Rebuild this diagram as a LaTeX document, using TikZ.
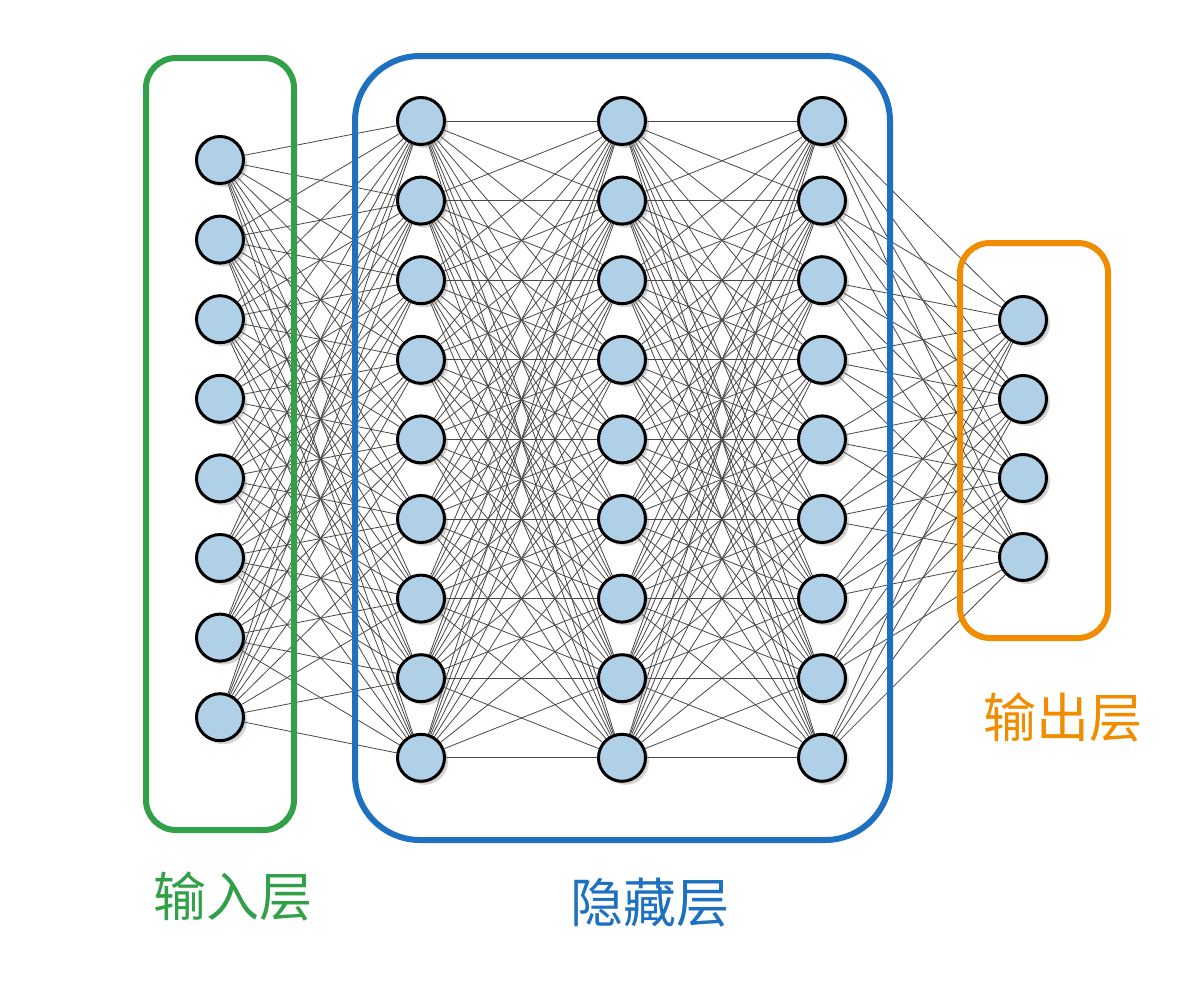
\documentclass[tikz,border=0pt]{standalone}
\usepackage{fontspec}
\newfontfamily\cjk{Noto Sans CJK SC}
\usepackage{tikz}
\usetikzlibrary{shadows,backgrounds}
\definecolor{neuronfill}{RGB}{176,208,232}
\definecolor{inputgreen}{RGB}{50,160,72}
\definecolor{hiddenblue}{RGB}{30,112,192}
\definecolor{outputorange}{RGB}{240,140,0}
\tikzset{
  neuron/.style     = {circle, draw=black, line width=3pt,
          fill=neuronfill, minimum size=47pt, inner sep=0pt,
          drop shadow={shadow xshift=3.5pt, shadow yshift=-3.5pt, opacity=0.35}},
  synapse/.style    = {draw=black!72, line width=0.8pt},
  layerbox/.style   = {line width=6pt, rounded corners=#1},
  layerlabel/.style = {font=\cjk\fontsize{53}{60}\selectfont}
}
\begin{document}
\begin{tikzpicture}[x=1pt, y=-1pt]
  \useasboundingbox (0,0) rectangle (1191,988);
  % neurons
  \foreach \i in {1,...,8}
    \node [neuron] (in\i) at (220, {160+79.6*(\i-1)}) {};
  \foreach \l/\x in {1/421, 2/622, 3/822}
    \foreach \j in {1,...,9}
      \node [neuron] (h\l-\j) at (\x, {121+79.6*(\j-1)}) {};
  \foreach \k in {1,...,4}
    \node [neuron] (out\k) at (1023, {320+79*(\k-1)}) {};
  % synapses, all to all
  \begin{scope}[on background layer]
    \foreach \i in {1,...,8}
      \foreach \j in {1,...,9}
        \draw [synapse] (in\i) -- (h1-\j);
    \foreach \l/\m in {1/2, 2/3}
      \foreach \i in {1,...,9}
        \foreach \j in {1,...,9}
          \draw [synapse] (h\l-\i) -- (h\m-\j);
    \foreach \i in {1,...,9}
      \foreach \k in {1,...,4}
        \draw [synapse] (h3-\i) -- (out\k);
  \end{scope}
  % layer boxes
  \draw [layerbox=30pt, inputgreen] (146,58) rectangle (294,830);
  \draw [layerbox=65pt, hiddenblue] (355,56) rectangle (890,840);
  \draw [layerbox=30pt, outputorange] (960,243) rectangle (1108,638);
  % labels
  \node [layerlabel, text=inputgreen] (inlabel) at (233,897) {输入层};
  \node [layerlabel, text=hiddenblue] (hiddenlabel) at (650,903) {隐藏层};
  \node [layerlabel, text=outputorange] (outlabel) at (1063,718) {输出层};
\end{tikzpicture}
\end{document}
